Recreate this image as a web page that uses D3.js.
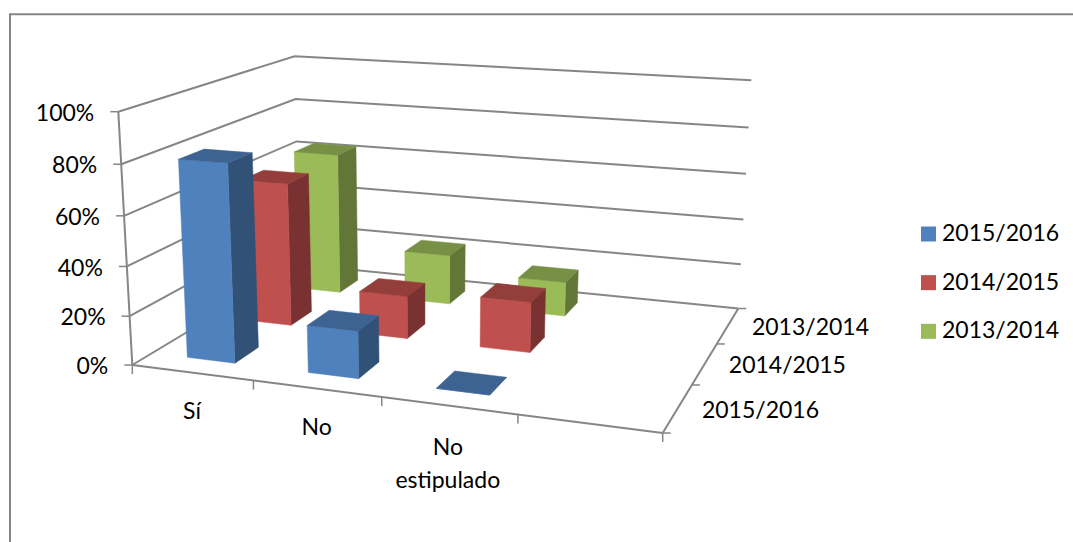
<!DOCTYPE html>
<html>
<head>
<meta charset="utf-8">
<script src="https://cdn.jsdelivr.net/npm/d3@7"></script>
<style>
  html, body { margin: 0; padding: 0; background: #fff; }
  svg { display: block; }
  text { font-family: Lato, "Open Sans", sans-serif; font-size: 23px; fill: #000; }
</style>
</head>
<body>
<div id="chart"></div>
<script>
// Data
const categories = ["Sí", "No", "No estipulado", ""];
const series = ["2015/2016", "2014/2015", "2013/2014"];
const values2015 = [80, 19, 0];
const values2014 = [61, 18, 21];
const values2013 = [63, 22, 15];
const valueTicks = [0, 20, 40, 60, 80, 100];
const colors = ["#4F81BD", "#C0504D", "#9BBB59"];

const width = 1073, height = 542;

var svg = d3.select("#chart").append("svg")
    .attr("width", width)
    .attr("height", height);

// chart area border
svg.append("path")
    .attr("d", "M10,542V14.3H1073")
    .attr("fill", "none")
    .attr("stroke", "#868686")
    .attr("stroke-width", 2);

// the box of the 3D plot: origin and the ends of the three edges leaving it,
// each with its homogeneous weight (Excel style perspective)
const origin = [132.3, 365];
const endX = { p: [662.7, 433], w: 0.888 };
const endY = { p: [118.3, 111.7], w: 0.955 };
const endZ = { p: [299.5, 264.5], w: 1.228 };

function project(u, v, t) {
    var d = 1 + u * (endX.w - 1) + v * (endY.w - 1) + t * (endZ.w - 1);
    return [0, 1].map(function(i) {
	return (origin[i]
		+ u * (endX.w * endX.p[i] - origin[i])
		+ v * (endY.w * endY.p[i] - origin[i])
		+ t * (endZ.w * endZ.p[i] - origin[i])) / d;
    });
}

// gap width 150% on both axes
var x = d3.scaleBand().domain(categories).range([0, 1]).paddingInner(0.6).paddingOuter(0.3);
var z = d3.scaleBand().domain(series).range([0, 1]).paddingInner(0.6).paddingOuter(0.3);
var y = d3.scaleLinear().domain([0, 100]).range([0, 1]);

var line = d3.line();
var gridColor = "#868686";

function drawLine(g, pts, w) {
    g.append("path")
	.attr("d", line(pts))
	.attr("fill", "none")
	.attr("stroke", gridColor)
	.attr("stroke-width", w);
}

// walls: gridlines run along the left wall and along the back wall
var grid = svg.append("g");
valueTicks.forEach(function(v) {
    drawLine(grid, [project(0, y(v), 0), project(0, y(v), 1), project(1, y(v), 1)], 2);
});

// axes
var axes = svg.append("g");
drawLine(axes, [project(0, 0, 0), project(0, 1, 0)], 2);
drawLine(axes, [project(0, 0, 0), project(1, 0, 0)], 2);
drawLine(axes, [project(1, 0, 0), project(1, 0, 1)], 2);

// value axis ticks and labels
valueTicks.forEach(function(v) {
    var p = project(0, y(v), 0);
    drawLine(axes, [[p[0] - 8, p[1]], p], 1.5);
    svg.append("text")
	.attr("x", p[0] - 24)
	.attr("y", p[1] + 1)
	.attr("dy", "0.35em")
	.attr("text-anchor", "end")
	.text(v + "%");
});

// category axis ticks and labels
d3.range(categories.length + 1).forEach(function(i) {
    var p = project(i / categories.length, 0, 0);
    drawLine(axes, [p, [p[0], p[1] + 9]], 1.5);
});
categories.forEach(function(c) {
    var p = project(x(c) + x.bandwidth() / 2, 0, 0);
    var words = c.split(" ");
    // the long label breaks after "No"
    var rows = words.length > 1 ? [words[0], words.slice(1).join(" ")] : words;
    rows.forEach(function(r, i) {
	svg.append("text")
	    .attr("x", p[0] - (rows.length > 1 ? 1 : 0))
	    .attr("y", p[1] + 38 + (rows.length > 1 ? 3 : 0) + i * 33)
	    .attr("dy", "0.35em")
	    .attr("text-anchor", "middle")
	    .text(r);
    });
});

// depth axis ticks and labels
d3.range(series.length + 1).forEach(function(i) {
    var p = project(1, 0, i / series.length);
    drawLine(axes, [p, [p[0] + 8, p[1]]], 1.5);
});
series.forEach(function(s) {
    var p = project(1, 0, z(s) + z.bandwidth() / 2);
    svg.append("text")
	.attr("x", p[0] + 24)
	.attr("y", p[1] + 1.5)
	.attr("dy", "0.35em")
	.text(s);
});

// one bar: side, top and front faces
function drawBar(g, category, s, value, color) {
    var u0 = x(category), u1 = u0 + x.bandwidth();
    var t0 = z(s), t1 = t0 + z.bandwidth();
    var v = y(value);
    var base = d3.rgb(color);
    function shade(k) {
	return d3.rgb(base.r * k, base.g * k, base.b * k).formatHex();
    }
    var faces = [
	{ pts: [[u1, 0, t0], [u1, 0, t1], [u1, v, t1], [u1, v, t0]], fill: shade(0.63) },
	{ pts: [[u0, 0, t0], [u1, 0, t0], [u1, v, t0], [u0, v, t0]], fill: color },
	{ pts: [[u0, v, t0], [u1, v, t0], [u1, v, t1], [u0, v, t1]], fill: shade(0.77) }
    ];
    faces.forEach(function(f) {
	g.append("path")
	    .attr("d", line(f.pts.map(function(q) { return project(q[0], q[1], q[2]); })) + "Z")
	    .attr("fill", f.fill)
	    .attr("stroke", f.fill)
	    .attr("stroke-width", 0.5);
    });
}

// paint from the back row to the front row
var allValues = [values2015, values2014, values2013];
var bars = svg.append("g");
d3.range(series.length - 1, -1, -1).forEach(function(j) {
    allValues[j].forEach(function(val, i) {
	drawBar(bars, categories[i], series[j], val, colors[j]);
    });
});

// legend
var legendY = d3.scalePoint().domain(series).range([234, 331.3]);
series.forEach(function(s, j) {
    svg.append("rect")
	.attr("x", 921)
	.attr("y", legendY(s) - 7.5)
	.attr("width", 15)
	.attr("height", 15)
	.attr("fill", colors[j]);
    svg.append("text")
	.attr("x", 942)
	.attr("y", legendY(s) - 1)
	.attr("dy", "0.35em")
	.text(s);
});
</script>
</body>
</html>
